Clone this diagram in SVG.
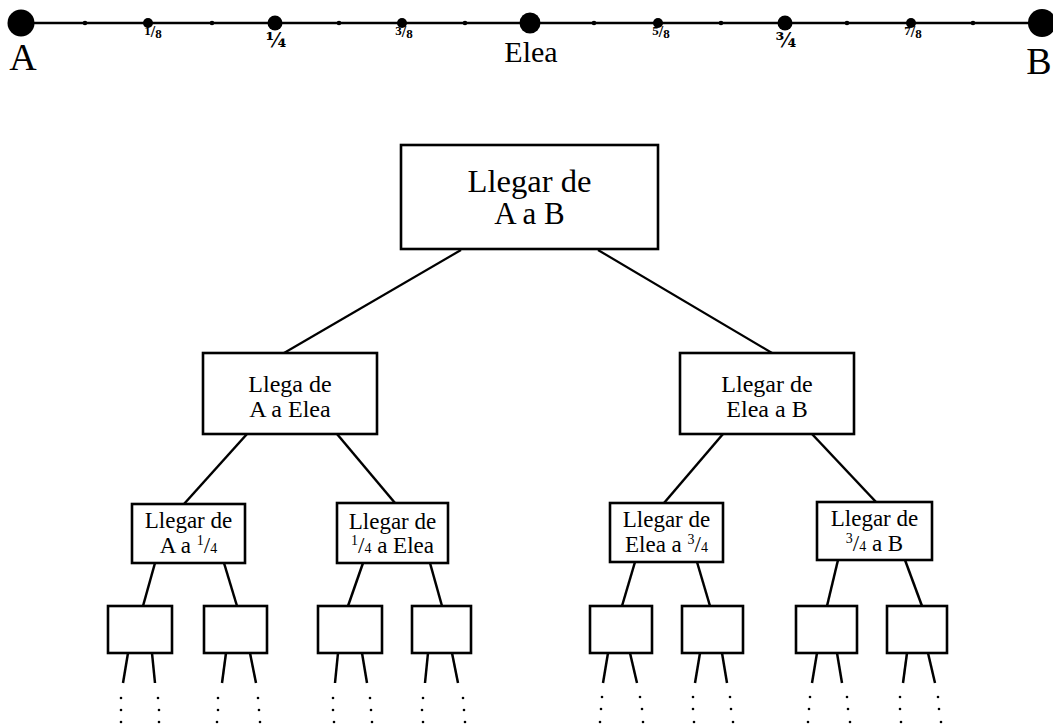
<svg xmlns="http://www.w3.org/2000/svg" width="1053" height="726" viewBox="0 0 1053 726">
<style>
text{font-family:"Liberation Serif","DejaVu Serif",serif;fill:#000;text-anchor:middle}
.box{fill:#fff;stroke:#000;stroke-width:2.6}
.ln{stroke:#000;stroke-width:2.2;fill:none}
.lnb{stroke:#000;stroke-width:2.5;fill:none}
.dot{fill:#000}
.t1{font-size:31px}
.t2{font-size:24px}
.t3{font-size:23px}
.sm{font-size:14px}
.frs{font-size:16px;font-weight:bold}
.frs .d{font-size:13px}
.frq{font-family:"DejaVu Serif",serif;font-size:20px;font-weight:bold}
</style>
<rect x="0" y="0" width="1053" height="726" fill="#fff"/>

<g id="number-line">
<line x1="21" y1="23" x2="1042" y2="23" stroke="#000" stroke-width="2.5"/>
<circle class="dot" cx="21" cy="23" r="13.5"/>
<circle class="dot" cx="85" cy="23" r="2.3"/>
<circle class="dot" cx="148" cy="23" r="5"/>
<circle class="dot" cx="212" cy="23" r="2.3"/>
<circle class="dot" cx="275" cy="23" r="7.5"/>
<circle class="dot" cx="339" cy="23" r="2.3"/>
<circle class="dot" cx="402" cy="23" r="5"/>
<circle class="dot" cx="465" cy="23" r="2.3"/>
<circle class="dot" cx="530" cy="23" r="10.5"/>
<circle class="dot" cx="594" cy="23" r="2.3"/>
<circle class="dot" cx="658" cy="23" r="5"/>
<circle class="dot" cx="721" cy="23" r="2.3"/>
<circle class="dot" cx="785" cy="23" r="7.5"/>
<circle class="dot" cx="847" cy="23" r="2.3"/>
<circle class="dot" cx="911" cy="23" r="5"/>
<circle class="dot" cx="973" cy="23" r="2.3"/>
<circle class="dot" cx="1042" cy="23" r="14"/>
<text x="23" y="70" style="font-size:38px">A</text>
<text x="1039" y="74" style="font-size:38px">B</text>
<text x="531" y="62" style="font-size:30px">Elea</text>
<text class="frs" x="153" y="35"><tspan class="d">1</tspan><tspan dy="2">/</tspan><tspan class="d" dy="1">8</tspan></text>
<text class="frq" x="276" y="47">¼</text>
<text class="frs" x="404" y="35"><tspan class="d">3</tspan><tspan dy="2">/</tspan><tspan class="d" dy="1">8</tspan></text>
<text class="frs" x="661" y="35"><tspan class="d">5</tspan><tspan dy="2">/</tspan><tspan class="d" dy="1">8</tspan></text>
<text class="frq" x="786" y="47">¾</text>
<text class="frs" x="913" y="35"><tspan class="d">7</tspan><tspan dy="2">/</tspan><tspan class="d" dy="1">8</tspan></text>
</g>

<g id="connectors">
<line class="ln" x1="461" y1="250" x2="284" y2="353"/>
<line class="ln" x1="598" y1="250" x2="772" y2="353"/>
<line class="lnb" x1="247" y1="434" x2="184" y2="504"/>
<line class="lnb" x1="337" y1="434" x2="395" y2="503"/>
<line class="lnb" x1="723" y1="434" x2="664" y2="503"/>
<line class="lnb" x1="812" y1="434" x2="876" y2="502"/>
<line class="lnb" x1="155" y1="563" x2="143" y2="606"/>
<line class="lnb" x1="224" y1="563" x2="237" y2="606"/>
<line class="lnb" x1="363" y1="563" x2="348" y2="606"/>
<line class="lnb" x1="430" y1="563" x2="442" y2="606"/>
<line class="lnb" x1="635" y1="562" x2="622" y2="606"/>
<line class="lnb" x1="697" y1="562" x2="710" y2="606"/>
<line class="lnb" x1="838" y1="560" x2="827" y2="606"/>
<line class="lnb" x1="905" y1="560" x2="922" y2="606"/>
<line class="lnb" x1="128" y1="653" x2="123" y2="683"/>
<line class="lnb" x1="152" y1="653" x2="155" y2="683"/>
<line class="lnb" x1="226" y1="653" x2="222" y2="683"/>
<line class="lnb" x1="250" y1="653" x2="256" y2="683"/>
<line class="lnb" x1="338" y1="653" x2="335" y2="683"/>
<line class="lnb" x1="362" y1="653" x2="367" y2="683"/>
<line class="lnb" x1="428" y1="653" x2="425" y2="683"/>
<line class="lnb" x1="452" y1="653" x2="458" y2="683"/>
<line class="lnb" x1="608" y1="653" x2="603" y2="683"/>
<line class="lnb" x1="630" y1="653" x2="637" y2="683"/>
<line class="lnb" x1="700" y1="653" x2="695" y2="683"/>
<line class="lnb" x1="722" y1="653" x2="727" y2="683"/>
<line class="lnb" x1="817" y1="653" x2="812" y2="683"/>
<line class="lnb" x1="837" y1="653" x2="842" y2="683"/>
<line class="lnb" x1="907" y1="653" x2="903" y2="683"/>
<line class="lnb" x1="928" y1="653" x2="935" y2="683"/>
</g>

<g id="continuation-dots">
<circle class="dot" cx="121" cy="698" r="1.3"/><circle class="dot" cx="121" cy="710" r="1.3"/><circle class="dot" cx="121" cy="722" r="1.3"/>
<circle class="dot" cx="158" cy="698" r="1.3"/><circle class="dot" cx="159" cy="710" r="1.3"/><circle class="dot" cx="159" cy="722" r="1.3"/>
<circle class="dot" cx="218" cy="698" r="1.3"/><circle class="dot" cx="218" cy="710" r="1.3"/><circle class="dot" cx="217" cy="722" r="1.3"/>
<circle class="dot" cx="258" cy="698" r="1.3"/><circle class="dot" cx="259" cy="710" r="1.3"/><circle class="dot" cx="260" cy="722" r="1.3"/>
<circle class="dot" cx="333" cy="698" r="1.3"/><circle class="dot" cx="333" cy="710" r="1.3"/><circle class="dot" cx="334" cy="722" r="1.3"/>
<circle class="dot" cx="370" cy="698" r="1.3"/><circle class="dot" cx="371" cy="710" r="1.3"/><circle class="dot" cx="372" cy="722" r="1.3"/>
<circle class="dot" cx="423" cy="698" r="1.3"/><circle class="dot" cx="422" cy="710" r="1.3"/><circle class="dot" cx="423" cy="722" r="1.3"/>
<circle class="dot" cx="463" cy="698" r="1.3"/><circle class="dot" cx="464" cy="710" r="1.3"/><circle class="dot" cx="465" cy="722" r="1.3"/>
<circle class="dot" cx="602" cy="697" r="1.3"/><circle class="dot" cx="601" cy="709" r="1.3"/><circle class="dot" cx="600" cy="722" r="1.3"/>
<circle class="dot" cx="640" cy="697" r="1.3"/><circle class="dot" cx="642" cy="709" r="1.3"/><circle class="dot" cx="643" cy="722" r="1.3"/>
<circle class="dot" cx="693" cy="697" r="1.3"/><circle class="dot" cx="693" cy="709" r="1.3"/><circle class="dot" cx="694" cy="722" r="1.3"/>
<circle class="dot" cx="730" cy="697" r="1.3"/><circle class="dot" cx="731" cy="709" r="1.3"/><circle class="dot" cx="733" cy="722" r="1.3"/>
<circle class="dot" cx="810" cy="697" r="1.3"/><circle class="dot" cx="809" cy="709" r="1.3"/><circle class="dot" cx="808" cy="722" r="1.3"/>
<circle class="dot" cx="847" cy="697" r="1.3"/><circle class="dot" cx="848" cy="709" r="1.3"/><circle class="dot" cx="850" cy="722" r="1.3"/>
<circle class="dot" cx="900" cy="697" r="1.3"/><circle class="dot" cx="900" cy="709" r="1.3"/><circle class="dot" cx="901" cy="722" r="1.3"/>
<circle class="dot" cx="938" cy="697" r="1.3"/><circle class="dot" cx="939" cy="709" r="1.3"/><circle class="dot" cx="941" cy="722" r="1.3"/>
</g>

<g id="node-root">
<rect class="box" x="401" y="145" width="257" height="104" stroke-width="3"/>
<text class="t1" x="529.5" y="192" textLength="124" lengthAdjust="spacingAndGlyphs">Llegar de</text>
<text class="t1" x="529.5" y="224">A a B</text>
</g>

<g id="node-a-elea">
<rect class="box" x="203" y="353" width="174" height="81"/>
<text class="t2" x="290" y="392">Llega de</text>
<text class="t2" x="290" y="417">A a Elea</text>
</g>

<g id="node-elea-b">
<rect class="box" x="680" y="353" width="174" height="81"/>
<text class="t2" x="767" y="392">Llegar de</text>
<text class="t2" x="767" y="417">Elea a B</text>
</g>

<g id="node-a-q1">
<rect class="box" x="132" y="504" width="113" height="59"/>
<text class="t3" x="188.5" y="528">Llegar de</text>
<text class="t3" x="188.5" y="553">A a <tspan class="sm" dy="-8">1</tspan><tspan dy="8">/</tspan><tspan class="sm">4</tspan></text>
</g>

<g id="node-q1-elea">
<rect class="box" x="337" y="503" width="111" height="60"/>
<text class="t3" x="392.5" y="529">Llegar de</text>
<text class="t3" x="392.5" y="553"><tspan class="sm" dy="-8">1</tspan><tspan dy="8">/</tspan><tspan class="sm">4</tspan> a Elea</text>
</g>

<g id="node-elea-q3">
<rect class="box" x="610" y="503" width="113" height="59"/>
<text class="t3" x="666.5" y="527">Llegar de</text>
<text class="t3" x="666.5" y="552">Elea a <tspan class="sm" dy="-8">3</tspan><tspan dy="8">/</tspan><tspan class="sm">4</tspan></text>
</g>

<g id="node-q3-b">
<rect class="box" x="817" y="502" width="115" height="58"/>
<text class="t3" x="874.5" y="526">Llegar de</text>
<text class="t3" x="874.5" y="551"><tspan class="sm" dy="-8">3</tspan><tspan dy="8">/</tspan><tspan class="sm">4</tspan> a B</text>
</g>

<g id="leaf-1"><rect class="box" x="108" y="606" width="64" height="47"/></g>
<g id="leaf-2"><rect class="box" x="204" y="606" width="63" height="47"/></g>
<g id="leaf-3"><rect class="box" x="318" y="606" width="64" height="47"/></g>
<g id="leaf-4"><rect class="box" x="412" y="606" width="59" height="47"/></g>
<g id="leaf-5"><rect class="box" x="590" y="606" width="62" height="47"/></g>
<g id="leaf-6"><rect class="box" x="682" y="606" width="61" height="47"/></g>
<g id="leaf-7"><rect class="box" x="796" y="606" width="61" height="47"/></g>
<g id="leaf-8"><rect class="box" x="887" y="606" width="60" height="47"/></g>
</svg>
